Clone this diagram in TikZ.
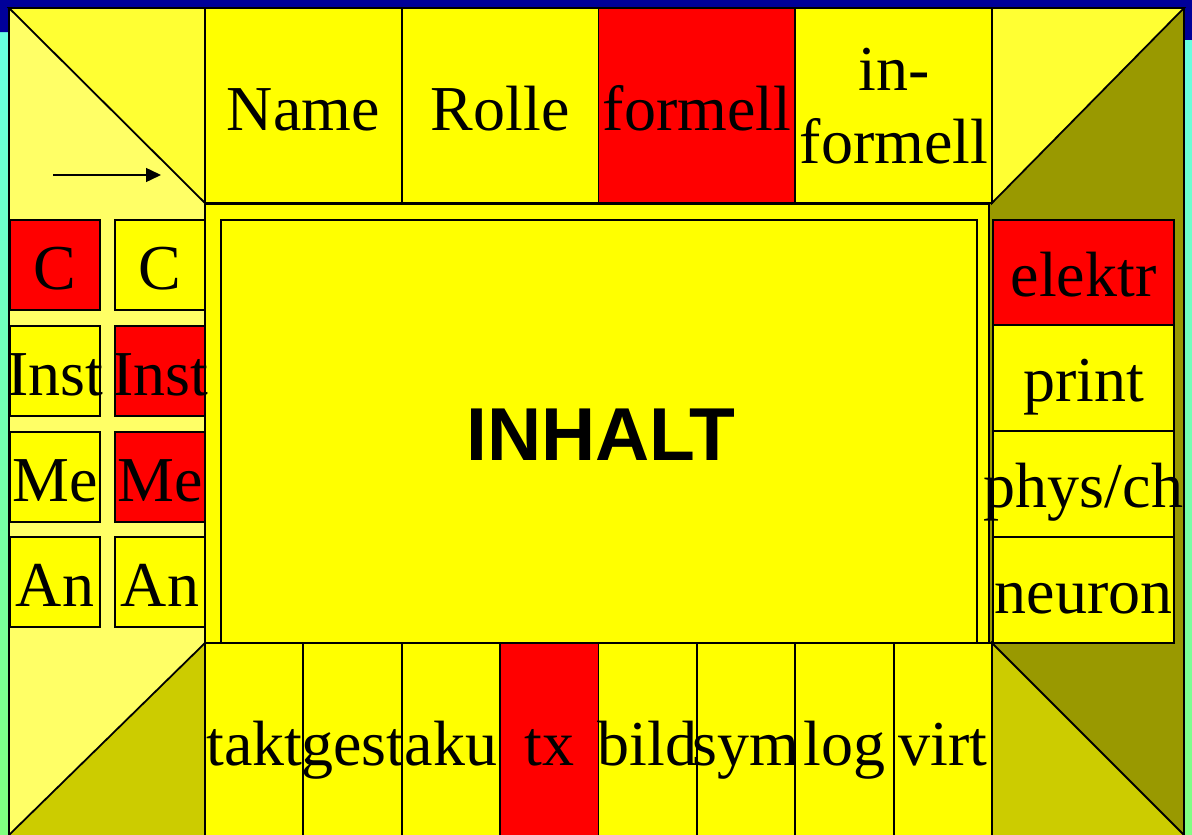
\documentclass[tikz,border=0pt]{standalone}
\usepackage{fontspec}
\setmainfont{Liberation Serif}
\setsansfont{Liberation Sans}
\usetikzlibrary{arrows.meta}

\definecolor{deepblue}{HTML}{000099}
\definecolor{bgtop}{HTML}{66FFE6}
\definecolor{bgbot}{HTML}{80FF80}
\definecolor{cellyel}{HTML}{FFFF00}
\definecolor{hotred}{HTML}{FF0000}
\definecolor{paleyel}{HTML}{FFFF66}
\definecolor{topyel}{HTML}{FFFF33}
\definecolor{oliv}{HTML}{999900}
\definecolor{midoliv}{HTML}{CCCC00}

\begin{document}
\begin{tikzpicture}[
  x=1pt, y=-1pt,
  cell/.style={draw=black, line width=1.8pt, fill=cellyel, inner sep=0pt},
  hotcell/.style={cell, fill=hotred},
  face/.style={draw=black, line width=1.8pt},
  word/.style={font=\fontsize{64}{73}\selectfont, inner sep=0pt, anchor=base},
  title/.style={font=\fontsize{75}{75}\sffamily\bfseries, inner sep=0pt, anchor=base}
]
\useasboundingbox (0,0) rectangle (1192,835);
\clip (0,0) rectangle (1192,835);

% backdrop
\shade[top color=bgtop, bottom color=bgbot] (0,0) rectangle (1192,835);
\fill[deepblue] (0,0) -- (1192,0) -- (1192,40) -- (0,32) -- cycle;

% side faces of the box
\filldraw[face, fill=paleyel] (9,8) rectangle (205,845);
\filldraw[face, fill=oliv] (989,8) rectangle (1184,845);
\filldraw[face, fill=topyel] (9,8) -- (205,8) -- (205,203) -- cycle;
\filldraw[face, fill=topyel] (992,8) -- (1184,8) -- (992,203) -- cycle;
\filldraw[face, fill=midoliv] (9,835) -- (205,643) -- (205,845) -- (9,845) -- cycle;
\filldraw[face, fill=midoliv] (992,643) -- (1184,835) -- (1184,845) -- (992,845) -- cycle;

% centre
\node[cell, minimum width=784pt, minimum height=439pt] (frame) at (597,423.5) {};
\node[cell, minimum width=756pt, minimum height=423pt] (inhalt) at (599,431.5) {};
\node[title] (inhaltlab) at (601,460) {INHALT};

% top row
\foreach \sty [count=\i from 0] in {cell,cell,hotcell,cell} {
  \node[\sty, minimum width=196.75pt, minimum height=195pt] (top\i) at ({303.4+196.75*\i},105.5) {};
}
\foreach \p [count=\i from 0] in {Name,Rolle,formell} {
  \node[word] (toplab\i) at ({303.4+196.75*\i},130) {\p};
}
\node[word, anchor=center, align=center] (toplab3) at (894,106.5) {in-\\formell};

% bottom row
\foreach \p/\sty [count=\i from 0] in {takt/cell,gest/cell,aku/cell,tx/hotcell,bild/cell,sym/cell,log/cell,virt/cell} {
  \node[\sty, minimum width=98.375pt, minimum height=202pt] (bot\i) at ({254.2+98.375*\i},744) {};
  \node[word] (botlab\i) at ({254.2+98.375*\i},765) {\p};
}

% left column
\foreach \p/\sa/\sb/\y [count=\i from 0] in {C/hotcell/cell/220,Inst/cell/hotcell/326,Me/cell/hotcell/432,An/cell/cell/537} {
  \node[\sa, minimum width=90pt, minimum height=90pt] (la\i) at (55,\y+45) {};
  \node[\sb, minimum width=90pt, minimum height=90pt] (lb\i) at (160,\y+45) {};
  \node[word] (lalab\i) at (55,\y+69) {\p};
  \node[word] (lblab\i) at (160,\y+69) {\p};
}

% right column
\foreach \p/\sty/\y [count=\i from 0] in {elektr/hotcell/220,print/cell/325,{phys/ch}/cell/431,neuron/cell/537} {
  \node[\sty, minimum width=181pt, minimum height=106pt] (r\i) at (1083.5,\y+53) {};
  \node[word] (rlab\i) at (1083.5,\y+76) {\p};
}

% arrow
\coordinate (arrowtail) at (53,175);
\coordinate (arrowtip) at (161,175);
\draw[line width=1.5pt, -{Triangle[length=15pt,width=14pt]}] (arrowtail) -- (arrowtip);
\end{tikzpicture}
\end{document}
